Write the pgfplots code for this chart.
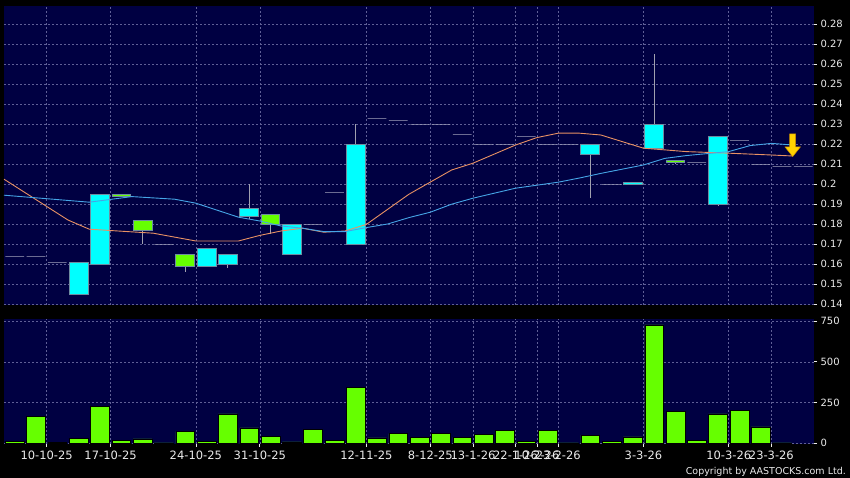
\documentclass[border=0pt]{standalone}
\usepackage{fontspec}
\setmainfont{DejaVu Sans}
\usepackage{pgfplots}
\pgfplotsset{compat=1.18}
\definecolor{navy}{RGB}{0,0,66}
\definecolor{gridc}{RGB}{95,95,150}
\definecolor{cyanc}{RGB}{0,255,255}
\definecolor{greenc}{RGB}{102,255,0}
\definecolor{boxc}{RGB}{110,140,160}
\definecolor{wickc}{RGB}{160,160,175}
\definecolor{dojic}{RGB}{165,165,190}
\definecolor{maor}{RGB}{232,145,100}
\definecolor{mabl}{RGB}{70,165,230}
\definecolor{txt}{RGB}{235,235,235}
\definecolor{arrowy}{RGB}{255,210,0}
\definecolor{arrowo}{RGB}{200,140,0}

% x, body bottom, body top, low, high, fill, draw
\newcommand{\cdl}[7]{%
  \addplot[forget plot, draw=wickc, line width=0.7pt] coordinates {(#1,#4) (#1,#5)};
  \addplot[forget plot, fill=#6, draw=#7, line width=0.7pt] table[row sep=\\, x expr=#1+\thisrow{d}]
    {d y\\ -0.44 #2\\ 0.44 #2\\ 0.44 #3\\ -0.44 #3\\} -- cycle;}

\pgfplotsset{
  panel/.style={scale only axis, width=810pt, xmin=-0.5, xmax=37.5, anchor=south west,
    axis background/.style={fill=navy}, axis line style={draw=none},
    grid=major, major grid style={gridc, dash pattern=on 2pt off 2pt, line width=0.5pt},
    xtick={1.5,4.5,8.5,11.5,16.5,19.5,21.5,23.5,24.5,25.5,29.5,33.5,35.5},
    ytick pos=right, yticklabel pos=right, tick align=outside, major tick length=3pt,
    tick style={txt, line width=0.6pt},
    ticklabel style={text=txt},
    /pgf/number format/assume math mode=true,
    scaled ticks=false},
}

\begin{document}
\begin{tikzpicture}
\fill[black] (0,0) rectangle (850pt,478pt);

\begin{axis}[panel, at={(4pt,173pt)}, height=299pt, ymin=0.1395, ymax=0.289,
  ytick={0.14,0.15,0.16,0.17,0.18,0.19,0.2,0.21,0.22,0.23,0.24,0.25,0.26,0.27,0.28},
  xticklabels={}, xtick style={draw=none},
  yticklabel style={font=\fontsize{10}{12}\selectfont}]
\cdl{0}{0.164}{0.164}{0.164}{0.164}{none}{dojic}
\cdl{1}{0.164}{0.164}{0.164}{0.164}{none}{dojic}
\cdl{2}{0.161}{0.161}{0.161}{0.161}{none}{dojic}
\cdl{3}{0.145}{0.161}{0.145}{0.161}{cyanc}{boxc}
\cdl{4}{0.160}{0.195}{0.160}{0.195}{cyanc}{boxc}
\cdl{5}{0.194}{0.195}{0.194}{0.195}{greenc}{boxc}
\cdl{6}{0.177}{0.182}{0.170}{0.182}{greenc}{boxc}
\cdl{7}{0.170}{0.170}{0.170}{0.170}{none}{dojic}
\cdl{8}{0.159}{0.165}{0.156}{0.165}{greenc}{boxc}
\cdl{9}{0.159}{0.168}{0.159}{0.168}{cyanc}{boxc}
\cdl{10}{0.160}{0.165}{0.158}{0.165}{cyanc}{boxc}
\cdl{11}{0.184}{0.188}{0.1825}{0.200}{cyanc}{boxc}
\cdl{12}{0.180}{0.185}{0.175}{0.185}{greenc}{boxc}
\cdl{13}{0.165}{0.180}{0.165}{0.180}{cyanc}{boxc}
\cdl{14}{0.180}{0.180}{0.180}{0.180}{none}{dojic}
\cdl{15}{0.196}{0.196}{0.196}{0.196}{none}{dojic}
\cdl{16}{0.170}{0.220}{0.170}{0.230}{cyanc}{boxc}
\cdl{17}{0.233}{0.233}{0.233}{0.233}{none}{dojic}
\cdl{18}{0.232}{0.232}{0.232}{0.232}{none}{dojic}
\cdl{19}{0.230}{0.230}{0.230}{0.230}{none}{dojic}
\cdl{20}{0.230}{0.230}{0.230}{0.230}{none}{dojic}
\cdl{21}{0.225}{0.225}{0.225}{0.225}{none}{dojic}
\cdl{22}{0.220}{0.220}{0.220}{0.220}{none}{dojic}
\cdl{23}{0.220}{0.220}{0.220}{0.220}{none}{dojic}
\cdl{24}{0.224}{0.224}{0.224}{0.224}{none}{dojic}
\cdl{25}{0.220}{0.220}{0.220}{0.220}{none}{dojic}
\cdl{26}{0.220}{0.220}{0.220}{0.220}{none}{dojic}
\cdl{27}{0.215}{0.220}{0.193}{0.220}{cyanc}{boxc}
\cdl{28}{0.200}{0.200}{0.200}{0.200}{none}{dojic}
\cdl{29}{0.200}{0.201}{0.200}{0.201}{cyanc}{boxc}
\cdl{30}{0.218}{0.230}{0.218}{0.265}{cyanc}{boxc}
\cdl{31}{0.211}{0.212}{0.210}{0.212}{greenc}{boxc}
\cdl{32}{0.211}{0.211}{0.211}{0.211}{none}{dojic}
\cdl{33}{0.190}{0.224}{0.189}{0.224}{cyanc}{boxc}
\cdl{34}{0.222}{0.222}{0.222}{0.222}{none}{dojic}
\cdl{35}{0.210}{0.210}{0.210}{0.210}{none}{dojic}
\cdl{36}{0.209}{0.209}{0.209}{0.209}{none}{dojic}
\cdl{37}{0.209}{0.209}{0.209}{0.209}{none}{dojic}

\addplot[maor, line width=0.9pt] coordinates {(-0.5,0.2024) (2.5,0.182) (3.5,0.1774) (6.5,0.1754) (8.5,0.1715) (10.5,0.1715) (11.5,0.1743) (12.5,0.1765) (13.5,0.1779) (14.5,0.1759) (15.5,0.1765) (16.5,0.1798) (18.5,0.1949) (20.5,0.207) (21.5,0.2104) (23.5,0.2195) (24.5,0.2232) (25.5,0.2254) (26.5,0.2254) (27.5,0.2245) (29.5,0.2179) (31.5,0.2162) (33.5,0.2154) (35.5,0.2145) (36.5,0.214)};
\addplot[mabl, line width=0.9pt] coordinates {(-0.5,0.1944) (3.5,0.1909) (5.5,0.1937) (7.5,0.1924) (8.5,0.1904) (10.5,0.1834) (11.5,0.1815) (12.5,0.179) (13.5,0.1779) (14.5,0.1762) (15.5,0.1762) (16.5,0.1782) (17.5,0.1800) (18.5,0.1832) (19.5,0.1859) (20.5,0.1899) (21.5,0.1929) (23.5,0.1979) (25.5,0.2009) (26.5,0.2030) (27.5,0.2053) (29.5,0.2095) (30.5,0.2128) (31.5,0.2142) (33.5,0.2162) (34.5,0.2192) (35.5,0.2203) (36.5,0.2195)};
\addplot[fill=arrowy, draw=arrowo, line width=0.5pt] coordinates {(36.36,0.225) (36.64,0.225) (36.64,0.2185) (36.86,0.2185) (36.5,0.2137) (36.14,0.2185) (36.36,0.2185)} -- cycle;
\end{axis}

\begin{axis}[panel, at={(4pt,34pt)}, height=125pt, ymin=-4.3, ymax=762.3,
  ytick={0,250,500,750}, xtick pos=left,
  xticklabels={10-10-25,17-10-25,24-10-25,31-10-25,12-11-25,8-12-25,13-1-26,22-1-26,10-2-26,23-2-26,3-3-26,10-3-26,23-3-26},
  xticklabel style={font=\fontsize{11.5}{13}\selectfont},
  yticklabel style={font=\fontsize{10}{12}\selectfont}]
\addplot[ybar, bar width=0.88, fill=greenc, draw=black, line width=0.5pt] coordinates {
(0,14) (1,164) (2,4) (3,31) (4,227) (5,18) (6,27) (7,2) (8,72) (9,12)
(10,180) (11,94) (12,41) (13,8) (14,84) (15,16) (16,345) (17,33) (18,59) (19,37)
(20,59) (21,37) (22,55) (23,80) (24,12) (25,80) (26,2) (27,49) (28,12) (29,39)
(30,726) (31,198) (32,20) (33,180) (34,204) (35,100) (36,2)};
\end{axis}

\node[anchor=east, text=txt, font=\fontsize{9.5}{11}\selectfont, inner sep=0pt] at (846pt,6.5pt) {Copyright by AASTOCKS.com Ltd.};
\end{tikzpicture}
\end{document}
